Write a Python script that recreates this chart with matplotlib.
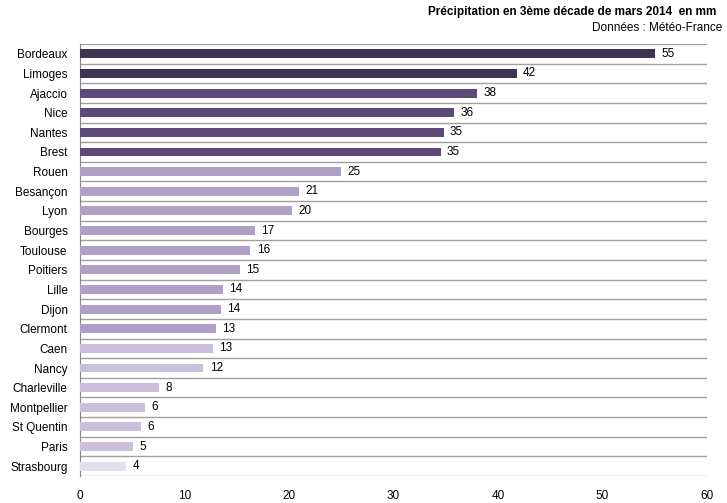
import matplotlib
matplotlib.use("Agg")
import matplotlib.pyplot as plt

cities = ["Bordeaux","Limoges","Ajaccio","Nice","Nantes","Brest","Rouen","Besançon","Lyon","Bourges",
          "Toulouse","Poitiers","Lille","Dijon","Clermont","Caen","Nancy","Charleville","Montpellier",
          "St Quentin","Paris","Strasbourg"]
values = [55.0,41.8,38.0,35.8,34.8,34.5,25.0,21.0,20.3,16.7,16.3,15.3,13.7,13.5,13.0,12.7,11.8,7.6,6.2,5.8,5.1,4.4]
labels = [55,42,38,36,35,35,25,21,20,17,16,15,14,14,13,13,12,8,6,6,5,4]
colors = ["#3f3352"]*2 + ["#5e4a7a"]*4 + ["#b0a0c8"]*9 + ["#cbc0dc"]*6 + ["#e4dfec"]

plt.rcParams["font.family"] = "Liberation Sans"
fig = plt.figure(figsize=(7.27,5.03), dpi=100)
ax = fig.add_axes([80/727, 1-476/503, 627/727, 432/503])
n = len(cities)
ys = list(range(n))
ax.barh(ys, values, height=0.45, color=colors, zorder=3)
for y, v, l in zip(ys, values, labels):
    ax.text(v+0.6, y, str(l), va="center", ha="left", fontsize=8.5)
ax.set_xlim(0,60)
ax.set_ylim(n-0.5, -0.5)
ax.set_yticks(ys)
ax.set_yticklabels(cities, fontsize=8.5)
ax.set_xticks(range(0,61,10))
ax.tick_params(axis="x", labelsize=8.5, length=0, pad=10)
ax.tick_params(axis="y", length=0, pad=9)
for b in range(n+1):
    ax.axhline(b-0.5, color="#a0a0a0", lw=1, zorder=1)
for s in ["top","right","bottom"]:
    ax.spines[s].set_visible(False)
ax.spines["left"].set_color("#888888")
fig.text(716/727, 1-12/503, "Précipitation en 3ème décade de mars 2014  en mm", ha="right", va="center", fontsize=8.5, fontweight="bold")
fig.text(722/727, 1-28/503, "Données : Météo-France", ha="right", va="center", fontsize=8.5)
fig.savefig("out.png", dpi=100)
